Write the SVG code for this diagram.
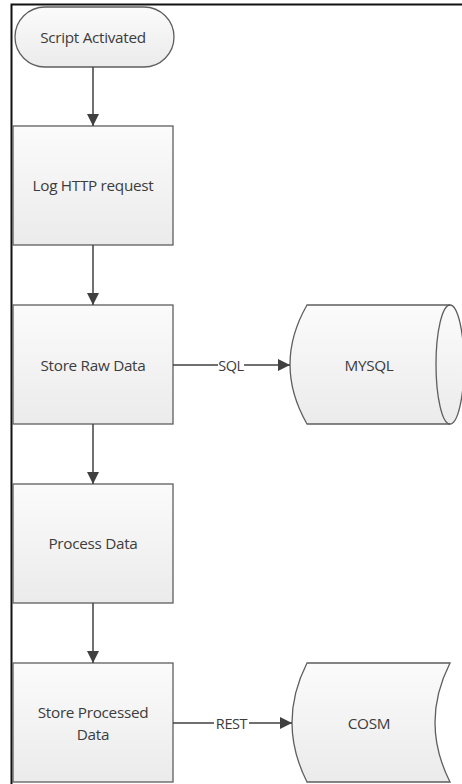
<svg xmlns="http://www.w3.org/2000/svg" width="462" height="784" viewBox="0 0 462 784">
<style>
.shape{stroke:#5e5e5e;stroke-width:1.3;fill:url(#g)}
.lbl{font-family:"Open Sans","Liberation Sans",sans-serif;font-size:15.3px;fill:#3c3c3c;text-anchor:middle;dominant-baseline:central;letter-spacing:-0.3px}
.conn{stroke:#404040;stroke-width:1.5;fill:none;marker-end:url(#ah)}
.clbl{font-family:"Open Sans","Liberation Sans",sans-serif;font-size:14.5px;fill:#3c3c3c;text-anchor:middle;dominant-baseline:central;letter-spacing:-0.4px}
</style>
<defs>
<linearGradient id="g" x1="0" y1="0" x2="0" y2="1">
<stop offset="0" stop-color="#fbfbfb"/>
<stop offset="1" stop-color="#ebebeb"/>
</linearGradient>
<marker id="ah" viewBox="0 0 12 12" refX="12" refY="6" markerWidth="12" markerHeight="12" markerUnits="userSpaceOnUse" orient="auto">
<path d="M0,0 L12,6 L0,12 Z" fill="#404040"/>
</marker>
</defs>
<rect x="0" y="0" width="462" height="784" fill="#fff"/>
<path d="M11.5,784 V4.5 H462" stroke="#111" stroke-width="2" fill="none"/>

<g id="n-script">
<rect class="shape" x="15" y="7" width="159" height="60" rx="30" ry="30"/>
<text class="lbl" x="93" y="37">Script Activated</text>
</g>
<g id="n-log">
<rect class="shape" x="13" y="126" width="160" height="119"/>
<text class="lbl" x="93" y="185">Log HTTP request</text>
</g>
<g id="n-raw">
<rect class="shape" x="13" y="305" width="160" height="119"/>
<text class="lbl" x="93" y="365">Store Raw Data</text>
</g>
<g id="n-mysql">
<path class="shape" d="M307,305 H450 A14,59.5 0 0 1 450,424 H307 Q273,364.5 307,305 Z"/>
<path d="M450,305 A14,59.5 0 0 0 450,424" stroke="#5e5e5e" stroke-width="1.3" fill="none"/>
<text class="lbl" x="369" y="365">MYSQL</text>
</g>
<g id="n-process">
<rect class="shape" x="13" y="484" width="160" height="119"/>
<text class="lbl" x="93" y="543">Process Data</text>
</g>
<g id="n-processed">
<rect class="shape" x="13" y="663" width="160" height="119"/>
<text class="lbl" x="93" y="712">Store Processed</text>
<text class="lbl" x="93" y="734">Data</text>
</g>
<g id="n-cosm">
<path class="shape" d="M307,663 H450 Q420,722.5 450,782 H307 Q277,722.5 307,663 Z"/>
<text class="lbl" x="369" y="723">COSM</text>
</g>

<g id="connectors">
<path class="conn" d="M93,67 V126"/>
<path class="conn" d="M93,245 V305"/>
<path class="conn" d="M93,424 V484"/>
<path class="conn" d="M93,603 V663"/>
<path d="M173,365 H218" stroke="#404040" stroke-width="1.5"/>
<path class="conn" d="M244,365 H290"/>
<text class="clbl" x="231" y="365">SQL</text>
<path d="M173,723 H214" stroke="#404040" stroke-width="1.5"/>
<path class="conn" d="M249,723 H292"/>
<text class="clbl" x="231.5" y="723">REST</text>
</g>
</svg>
